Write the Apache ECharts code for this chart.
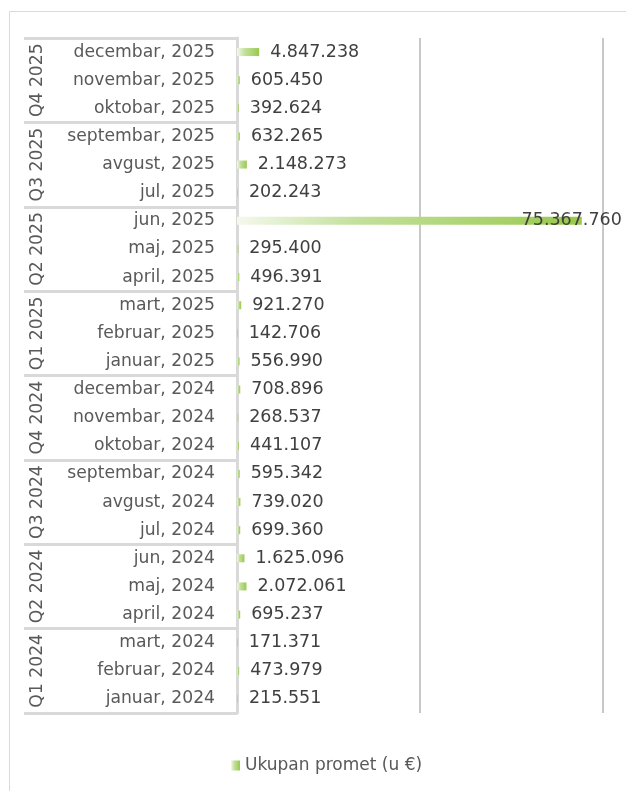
<!DOCTYPE html>
<html>
<head>
<meta charset="utf-8">
<script src="https://cdn.jsdelivr.net/npm/echarts@6/dist/echarts.min.js"></script>
<style>
html,body{margin:0;padding:0;background:#fff;}
#c{width:626px;height:791px;}
</style>
</head>
<body>
<div id="c"></div>
<script>
// Categories (bottom to top)
var months = [
  'januar, 2024','februar, 2024','mart, 2024','april, 2024','maj, 2024','jun, 2024',
  'jul, 2024','avgust, 2024','septembar, 2024','oktobar, 2024','novembar, 2024','decembar, 2024',
  'januar, 2025','februar, 2025','mart, 2025','april, 2025','maj, 2025','jun, 2025',
  'jul, 2025','avgust, 2025','septembar, 2025','oktobar, 2025','novembar, 2025','decembar, 2025'
];
var quarters = ['Q1 2024','Q2 2024','Q3 2024','Q4 2024','Q1 2025','Q2 2025','Q3 2025','Q4 2025'];
var values = [
  215551, 473979, 171371, 695237, 2072061, 1625096,
  699360, 739020, 595342, 441107, 268537, 708896,
  556990, 142706, 921270, 496391, 295400, 75367760,
  202243, 2148273, 632265, 392624, 605450, 4847238
];
var seriesName = 'Ukupan promet (u €)';
var xMin = 0, xMax = 80000000, xInterval = 40000000;

function fmt(v){
  return String(Math.round(v)).replace(/\B(?=(\d{3})+(?!\d))/g, '.');
}

var FONT = 'DejaVu Sans';
var TXT = '#595959';
var grad = new echarts.graphic.LinearGradient(0, 0, 1, 0, [
  {offset: 0, color: '#f4f9ec'},
  {offset: 0.35, color: '#c3e09c'},
  {offset: 1, color: '#98c94c'}
]);

var maxV = Math.max.apply(null, values);
var seriesData = values.map(function(v){
  if (v === maxV) {
    return {value: v, label: {position: 'insideRight', offset: [51, 0], color: '#404040'}};
  }
  return v;
});

var chart = echarts.init(document.getElementById('c'), null, {renderer: 'canvas'});
chart.setOption({
  animation: false,
  backgroundColor: '#ffffff',
  textStyle: {fontFamily: FONT},
  graphic: [{
    type: 'rect', silent: true, z: -1,
    shape: {x: 9.5, y: 11.5, width: 700, height: 900},
    style: {fill: 'none', stroke: '#d9d9d9', lineWidth: 1}
  }],
  grid: {left: 237, right: 23, top: 38, bottom: 78, containLabel: false},
  legend: {
    top: 752, left: 226,
    icon: 'rect', itemWidth: 9, itemHeight: 10, itemGap: 10,
    textStyle: {color: TXT, fontSize: 17, fontFamily: FONT},
    data: [seriesName]
  },
  xAxis: {
    type: 'value', min: xMin, max: xMax, interval: xInterval,
    axisLabel: {show: false}, axisTick: {show: false}, axisLine: {show: false},
    splitLine: {show: true, lineStyle: {color: '#c8c8c8', width: 2}}
  },
  yAxis: [{
    type: 'category', data: months, position: 'left',
    axisLine: {show: false}, axisTick: {show: false},
    axisLabel: {color: TXT, fontSize: 17.2, fontFamily: FONT, margin: 22, interval: 0}
  }, {
    type: 'category', data: quarters, position: 'left',
    axisLine: {show: true, lineStyle: {color: '#d9d9d9', width: 3}},
    axisTick: {show: true, interval: 0, length: 213, lineStyle: {color: '#d9d9d9', width: 3}},
    axisLabel: {color: TXT, fontSize: 17.2, fontFamily: FONT, rotate: 90, margin: 191, interval: 0}
  }],
  series: [{
    name: seriesName, type: 'bar', yAxisIndex: 0,
    data: seriesData, barWidth: 8,
    itemStyle: {color: grad},
    label: {
      show: true, position: 'right', distance: 11,
      color: '#404040', fontSize: 17.5, fontFamily: FONT,
      formatter: function(p){ return fmt(p.value); }
    }
  }]
});
</script>
</body>
</html>
